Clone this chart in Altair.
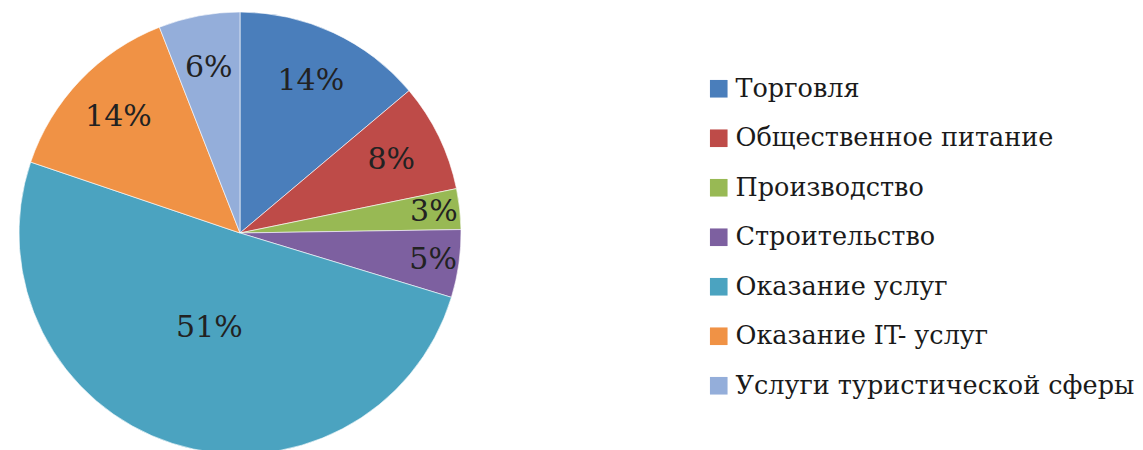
import altair as alt
import pandas as pd
import math

categories = ["Торговля", "Общественное питание", "Производство", "Строительство",
              "Оказание услуг", "Оказание IT- услуг", "Услуги туристической сферы"]
values = [14, 8, 3, 5, 51, 14, 6]
labels = ["14%", "8%", "3%", "5%", "51%", "14%", "6%"]
colors = ["#4A7EBB", "#BE4B48", "#98B954", "#7D60A0", "#4BA3C0", "#F09245", "#94AEDA"]

df = pd.DataFrame({"cat": categories, "value": values, "label": labels,
                   "idx": list(range(len(categories)))})
total = sum(values)

theta_scale = alt.Scale(domain=[0, total], range=[0, 2 * math.pi])

base = alt.Chart(df).transform_window(
    cum="sum(value)", sort=[alt.SortField("idx")], frame=[None, 0]
).transform_calculate(
    start="datum.cum - datum.value",
    mid="datum.cum - datum.value / 2",
    lr="datum.value > 40 ? 100 : (datum.value < 6 ? 195 : 168)",
)

pie = base.mark_arc(outerRadius=221, stroke="white", strokeWidth=0.6).encode(
    theta=alt.Theta("start:Q", scale=theta_scale),
    theta2="cum:Q",
    x=alt.value(232), y=alt.value(225),
    color=alt.Color("cat:N", sort=categories,
                    scale=alt.Scale(domain=categories, range=colors),
                    legend=alt.Legend(title=None, orient="none", legendX=698, legendY=68,
                                      symbolType="square", symbolSize=310,
                                      symbolStrokeWidth=0, labelFontSize=25.5,
                                      labelFont="DejaVu Serif", labelColor="#1a1a1a",
                                      rowPadding=22.5, labelOffset=4,
                                      labelLimit=600))
)

text = base.mark_text(font="DejaVu Serif", fontSize=30, color="#222222").encode(
    theta=alt.Theta("mid:Q", scale=theta_scale),
    radius=alt.Radius("lr:Q", scale=None),
    x=alt.value(232), y=alt.value(225),
    text="label:N",
)

chart = alt.layer(pie, text).properties(
    width=464, height=434, padding=0, background="white"
).configure_view(strokeWidth=0, stroke="transparent")

chart.save("out.html", embed_options={"renderer": "svg", "actions": False})
